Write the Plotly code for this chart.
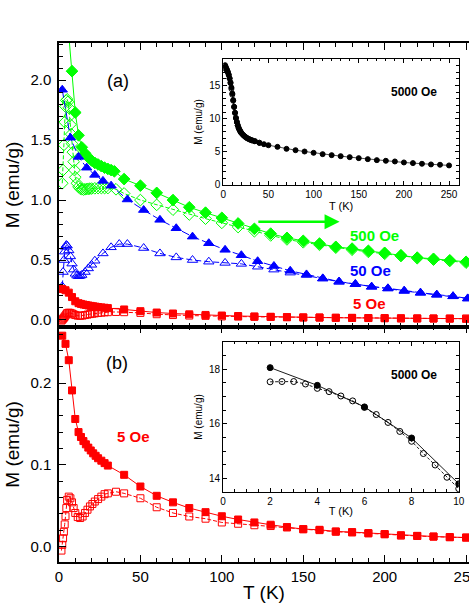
import plotly.graph_objects as go

# ---- main panel (a): 500 Oe (green), 50 Oe (blue); FC filled, ZFC open ----
green_fc_T = [2, 4, 6, 8, 10, 12, 14, 16, 18, 20, 22, 24, 26, 28, 30, 32, 34, 40,
              50, 60, 70, 80, 90, 100, 110, 120, 130, 140, 150, 160, 170, 180, 190,
              200, 210, 220, 230, 240, 250]
green_fc_M = [3.2, 2.7, 2.38, 2.075, 1.73, 1.54, 1.44, 1.39, 1.355, 1.33, 1.31, 1.297,
              1.283, 1.27, 1.26, 1.25, 1.24, 1.175, 1.12, 1.06, 1.0, 0.94, 0.895, 0.852,
              0.805, 0.76, 0.72, 0.685, 0.66, 0.637, 0.61, 0.595, 0.577, 0.56, 0.54,
              0.52, 0.51, 0.498, 0.485]

green_zfc_T = [2, 2.5, 3, 3.5, 4, 4.5, 5, 5.5, 6, 6.5, 7, 7.5, 8, 8.5, 9, 9.5, 10, 11,
               12, 13, 14, 15, 16, 17, 18, 19, 20, 22, 24, 26, 28, 30, 35, 40, 50, 60,
               70, 80, 90, 100, 110, 120, 130, 140, 150, 160, 170, 180, 190, 200, 210,
               220, 230, 240, 250]
green_zfc_M = [1.14, 1.25, 1.46, 1.65, 1.78, 1.83, 1.84, 1.82, 1.77, 1.70, 1.63, 1.55,
               1.47, 1.40, 1.32, 1.25, 1.19, 1.14, 1.11, 1.095, 1.09, 1.088, 1.09, 1.092,
               1.094, 1.095, 1.096, 1.098, 1.10, 1.10, 1.10, 1.10, 1.09, 1.055, 1.0,
               0.96, 0.92, 0.88, 0.845, 0.81, 0.775, 0.74, 0.705, 0.672, 0.648, 0.627,
               0.603, 0.586, 0.568, 0.552, 0.533, 0.515, 0.503, 0.492, 0.478]

blue_fc_T = [2, 7, 12, 17, 22, 27, 32, 42, 52, 62, 72, 82, 92, 102, 112, 122, 132, 142,
             152, 162, 172, 182, 192, 202, 212, 222, 232, 242, 251]
blue_fc_M = [1.92, 1.52, 1.36, 1.27, 1.21, 1.16, 1.12, 1.005, 0.917, 0.835, 0.765,
             0.695, 0.64, 0.585, 0.54, 0.49, 0.45, 0.41, 0.38, 0.347, 0.32, 0.30, 0.278,
             0.264, 0.244, 0.228, 0.211, 0.198, 0.18]

blue_zfc_T = [2, 2.5, 3, 3.5, 4, 4.5, 5, 6, 7, 8, 9, 10, 11, 12, 13, 14, 16, 18, 20,
              22, 27, 32, 37, 42, 52, 62, 72, 82, 92, 102, 112, 122, 132, 142, 152,
              162, 172, 182, 192, 202, 212, 222, 232, 242, 251]
blue_zfc_M = [0.28, 0.40, 0.50, 0.57, 0.61, 0.625, 0.62, 0.58, 0.53, 0.47, 0.42, 0.385,
              0.37, 0.365, 0.368, 0.375, 0.40, 0.43, 0.46, 0.494, 0.555, 0.606, 0.633,
              0.633, 0.60, 0.555, 0.522, 0.50, 0.486, 0.476, 0.468, 0.444, 0.42, 0.395,
              0.375, 0.345, 0.318, 0.298, 0.276, 0.262, 0.242, 0.226, 0.21, 0.197, 0.178]

# ---- 5 Oe (red), shown in both panels ----
red_fc_T = [2, 4, 6, 8, 10, 12, 13.5, 15, 16.5, 18, 19.5, 21, 22.5, 24, 26, 28, 30, 40,
            50, 60, 70, 80, 90, 100, 110, 120, 130, 140, 150, 160, 170, 180, 190, 200,
            210, 220, 230, 240, 250]
red_fc_M = [0.258, 0.248, 0.228, 0.191, 0.156, 0.140, 0.134, 0.129, 0.125, 0.121,
            0.1175, 0.114, 0.111, 0.108, 0.105, 0.102, 0.099, 0.0877, 0.0734, 0.062,
            0.054, 0.047, 0.042, 0.037, 0.033, 0.0294, 0.0266, 0.0237, 0.0213, 0.0204,
            0.0184, 0.0176, 0.0164, 0.0152, 0.0137, 0.013, 0.0122, 0.0115, 0.011]

red_zfc_T = [1.5, 2, 2.5, 3, 3.5, 4, 4.5, 5, 6, 7, 8, 9, 10, 11.5, 13, 14.5, 16, 17.5,
             19, 20.5, 22, 24, 26, 28, 30, 35, 40, 50, 60, 70, 80, 90, 100, 110, 120,
             130, 140, 150, 160, 170, 180, 190, 200, 210, 220, 230, 240, 250]
red_zfc_M = [-0.005, 0.002, 0.010, 0.018, 0.027, 0.037, 0.047, 0.057, 0.061, 0.059,
             0.054, 0.047, 0.041, 0.036, 0.0348, 0.0367, 0.041, 0.045, 0.049, 0.052,
             0.055, 0.058, 0.061, 0.064, 0.065, 0.067, 0.065, 0.059, 0.048, 0.041,
             0.0367, 0.034, 0.0294, 0.0278, 0.026, 0.025, 0.0233, 0.021, 0.0200, 0.018,
             0.0172, 0.016, 0.0149, 0.0134, 0.0128, 0.012, 0.0113, 0.0108]

# ---- inset (a): 5000 Oe, full range ----
ins_a_fc_T = [2, 3, 4, 5, 6, 7, 8, 9, 10, 11, 12, 13, 14, 15, 16, 17, 18, 19, 20, 22,
              24, 26, 28, 30, 32, 35, 40, 45, 50, 60, 70, 80, 90, 100, 110, 120, 130,
              140, 150, 160, 170, 180, 190, 200, 210, 220, 230, 240, 250]
ins_a_fc_M = [18.06, 17.75, 17.41, 17.05, 16.62, 16.1, 15.48, 14.7, 13.8, 12.8, 11.8,
              10.9, 10.1, 9.5, 9.0, 8.6, 8.3, 8.05, 7.85, 7.55, 7.3, 7.1, 6.95, 6.82,
              6.72, 6.6, 6.35, 6.15, 6.0, 5.75, 5.45, 5.25, 5.05, 4.85, 4.65, 4.5, 4.35,
              4.2, 4.05, 3.9, 3.75, 3.65, 3.55, 3.4, 3.3, 3.2, 3.1, 3.05, 2.95]
ins_a_zfc_T = [2, 3, 4, 5, 6, 7, 8, 9, 10, 11, 12, 13, 14, 15, 16, 17, 18, 19, 20, 22,
               24, 26, 28, 30, 32, 35, 40]
ins_a_zfc_M = [17.54, 17.55, 17.3, 17.02, 16.6, 16.05, 15.36, 14.49, 13.62, 12.7, 11.75,
               10.85, 10.1, 9.5, 9.0, 8.6, 8.3, 8.05, 7.85, 7.55, 7.3, 7.1, 6.95, 6.82,
               6.72, 6.6, 6.38]

# ---- inset (b): 5000 Oe, low T ----
ins_b_fc_T = [2, 4, 6, 8, 10]
ins_b_fc_M = [18.06, 17.41, 16.62, 15.48, 13.8]
ins_b_zfc_T = [2, 2.5, 3, 3.5, 4, 4.5, 5, 5.5, 6, 6.5, 7, 7.5, 8, 8.5, 9, 9.5, 10]
ins_b_zfc_M = [17.54, 17.55, 17.55, 17.46, 17.3, 17.18, 17.02, 16.84, 16.6, 16.34,
               16.05, 15.72, 15.36, 14.91, 14.49, 14.04, 13.62]

RED, BLUE, GREEN, BLACK = "#ff0000", "#0000ff", "#00ff00", "#000000"
FONT = "Arial, Liberation Sans, sans-serif"

fig = go.Figure()


def add(T, M, color, symbol, size, dash, xa, ya, lw=1.0):
    fig.add_trace(go.Scatter(
        x=T, y=M, mode="lines+markers", xaxis=xa, yaxis=ya,
        line=dict(color=color, width=lw, dash=dash),
        marker=dict(symbol=symbol, size=size, color=color,
                    line=dict(color=color, width=1)),
        showlegend=False, cliponaxis=True,
    ))


# panel (a)
add(green_zfc_T, green_zfc_M, GREEN, "diamond-open", 9, "4px,2px", "x2", "y2")
add(green_fc_T, green_fc_M, GREEN, "diamond", 9, "solid", "x2", "y2")
add(blue_zfc_T, blue_zfc_M, BLUE, "triangle-up-open", 9, "6px,3px", "x2", "y2")
add(blue_fc_T, blue_fc_M, BLUE, "triangle-up", 9, "8px,3px", "x2", "y2")
add(red_zfc_T, red_zfc_M, RED, "square-open", 7, "4px,2px", "x2", "y2")
add(red_fc_T, red_fc_M, RED, "square", 7, "solid", "x2", "y2")

# panel (b)
add(red_zfc_T, red_zfc_M, RED, "square-open", 7, "4px,2px", "x", "y")
add(red_fc_T, red_fc_M, RED, "square", 7, "solid", "x", "y")

# insets
add(ins_a_zfc_T, ins_a_zfc_M, BLACK, "circle-open", 5, "solid", "x3", "y3", lw=0.7)
add(ins_a_fc_T, ins_a_fc_M, BLACK, "circle", 5, "solid", "x3", "y3", lw=0.7)
add(ins_b_zfc_T, ins_b_zfc_M, BLACK, "circle-open", 6, "3px,2px", "x4", "y4", lw=0.9)
add(ins_b_fc_T, ins_b_fc_M, BLACK, "circle", 6, "solid", "x4", "y4", lw=0.9)

main_tick = dict(ticks="inside", ticklen=7, tickwidth=1.2, tickcolor=BLACK,
                 showline=True, linecolor=BLACK, linewidth=1.5, showgrid=False,
                 zeroline=False, automargin=False, ticklabeloverflow="allow",
                 tickfont=dict(size=15, color=BLACK, family=FONT))
ins_tick = dict(ticks="inside", ticklen=4, tickwidth=1, tickcolor=BLACK,
                showline=True, linecolor=BLACK, linewidth=1, showgrid=False,
                zeroline=False, mirror="ticks", automargin=False,
                tickfont=dict(size=10, color=BLACK, family=FONT))

split = 0.4534
xr = [0, 251.8]

fig.update_layout(
    width=469, height=607,
    margin=dict(l=59, r=0, t=43, b=45),
    paper_bgcolor="white", plot_bgcolor="white",
    font=dict(family=FONT, color=BLACK),
    xaxis=dict(domain=[0, 1], range=xr, anchor="y", dtick=50, mirror="ticks",
               minor=dict(dtick=10, ticks="inside", ticklen=4, tickcolor=BLACK),
               title=dict(text="T (K)", font=dict(size=19), standoff=2),
               **main_tick),
    yaxis=dict(domain=[0, split], range=[-0.019, 0.269], anchor="x", dtick=0.1,
               tickformat=".1f", ticklabelstandoff=3,
               minor=dict(dtick=0.02, ticks="inside", ticklen=4, tickcolor=BLACK),
               title=dict(text="M (emu/g)", font=dict(size=19), standoff=6),
               **main_tick),
    xaxis2=dict(domain=[0, 1], range=xr, anchor="y2", dtick=50, mirror="ticks",
                showticklabels=False,
                minor=dict(dtick=10, ticks="inside", ticklen=4, tickcolor=BLACK),
                **main_tick),
    yaxis2=dict(domain=[split, 1], range=[-0.056, 2.31], anchor="x2", dtick=0.5,
                tickformat=".1f", ticklabelstandoff=3,
                minor=dict(dtick=0.1, ticks="inside", ticklen=4, tickcolor=BLACK),
                title=dict(text="M (emu/g)", font=dict(size=19), standoff=6),
                **main_tick),
    xaxis3=dict(domain=[0.4007, 0.9756], range=[0, 261], anchor="y3", dtick=50,
                minor=dict(dtick=10, ticks="inside", ticklen=2.5, tickcolor=BLACK),
                title=dict(text="T (K)", font=dict(size=11), standoff=1),
                **ins_tick),
    yaxis3=dict(domain=[0.7264, 0.9692], range=[0, 19], anchor="x3", dtick=5,
                minor=dict(dtick=1, ticks="inside", ticklen=2.5, tickcolor=BLACK),
                title=dict(text="M (emu/g)", font=dict(size=10), standoff=4),
                **ins_tick),
    xaxis4=dict(domain=[0.4, 0.975], range=[0, 10], anchor="y4", dtick=2,
                minor=dict(dtick=0.5, ticks="inside", ticklen=2.5, tickcolor=BLACK),
                title=dict(text="T (K)", font=dict(size=11), standoff=1),
                **ins_tick),
    yaxis4=dict(domain=[0.1349, 0.4239], range=[13.5, 19], anchor="x4", dtick=2,
                minor=dict(dtick=0.5, ticks="inside", ticklen=2.5, tickcolor=BLACK),
                title=dict(text="M (emu/g)", font=dict(size=10), standoff=4),
                **ins_tick),
)

labels = [
    ("(a)", 36.4, 1.99, "x2", "y2", 18, BLACK, False),
    ("500 Oe", 193.6, 0.708, "x2", "y2", 15, GREEN, True),
    ("50 Oe", 191.5, 0.41, "x2", "y2", 15, BLUE, True),
    ("5 Oe", 190.5, 0.139, "x2", "y2", 15, RED, True),
    ("(b)", 35.8, 0.2248, "x", "y", 18, BLACK, False),
    ("5 Oe", 45.6, 0.1346, "x", "y", 15, RED, True),
    ("5000 Oe", 210.8, 13.95, "x3", "y3", 12, BLACK, True),
    ("5000 Oe", 8.1, 17.79, "x4", "y4", 12, BLACK, True),
]
for text, x, y, xa, ya, size, color, bold in labels:
    fig.add_annotation(
        text=f"<b>{text}</b>" if bold else text, x=x, y=y, xref=xa, yref=ya,
        showarrow=False, font=dict(size=size, color=color, family=FONT),
    )

# field-direction arrow
fig.add_annotation(
    x=172.3, y=0.82, ax=121.5, ay=0.82, xref="x2", yref="y2", axref="x2", ayref="y2",
    text="", showarrow=True, arrowhead=2, arrowsize=1.2, arrowwidth=2.5,
    arrowcolor=GREEN,
)

# page body has a default 8px margin; drop it so the figure fills the window
fig.write_html("out.html", config={"displayModeBar": False},
               post_script="document.body.style.margin='0';")
